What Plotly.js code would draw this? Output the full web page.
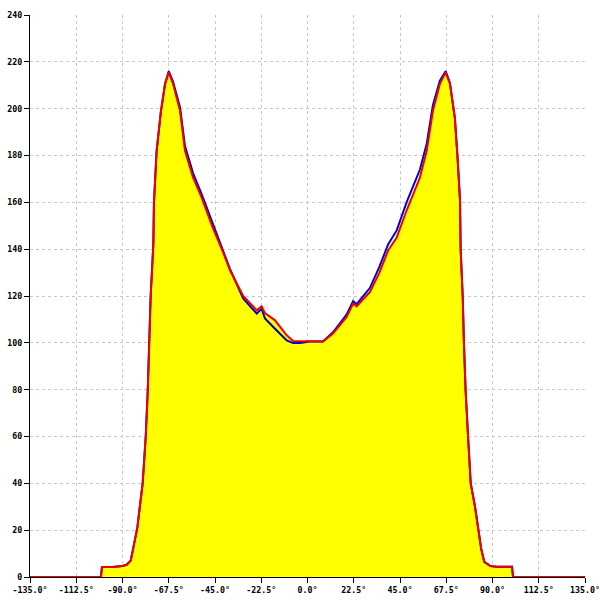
<!DOCTYPE html>
<html>
<head>
<meta charset="utf-8">
<script src="https://cdn.plot.ly/plotly-3.0.1.min.js"></script>
<style>html,body{margin:0;padding:0;background:#fff;}#chart{width:600px;height:600px;}</style>
</head>
<body>
<div id="chart"></div>
<script>
// angle (degrees)
const angles = [-135, -100.5, -100, -95, -90, -88, -86, -84.5, -82.8, -80.2, -78.7, -77.7, -77.1, -76.3, -75, -74.7, -73.4, -71.3, -69.3, -67.5, -65.4, -62, -59.6, -55.7, -51.5, -46, -41.2, -37.7, -31.3, -24.7, -22.3, -20.7, -15.8, -10.1, -7, -3.6, 1.2, 7.5, 12.4, 19, 22.2, 23.9, 30.4, 35, 39.2, 43.4, 48.2, 54.7, 58, 61, 64.4, 67.2, 69.3, 71.7, 73, 74.2, 74.5, 75.5, 76.1, 76.9, 78.1, 79.4, 81.5, 83, 84.5, 86, 89, 92, 99.5, 100, 135];
// red series values
const redValues = [0, 0, 4.3, 4.3, 4.7, 5.2, 7, 13, 21, 40, 60, 80, 100, 120, 142, 160, 182, 199, 210.6, 215.5, 210.6, 199, 182, 170.6, 162, 149, 139, 131, 120, 113.9, 115.6, 112.7, 109.6, 103.2, 100.8, 100.7, 100.6, 100.6, 104, 111, 116.8, 115.6, 121.7, 130, 139.4, 145, 156.5, 170.6, 182, 199, 210.6, 215.5, 210.6, 196, 179, 160.8, 140, 120, 100, 80, 60, 40, 30, 20, 12, 6.5, 4.7, 4.4, 4.4, 0, 0];
// blue series values
const blueValues = [0, 0, 4.3, 4.3, 4.7, 5.2, 7, 13, 21, 40, 60, 80, 100, 120, 142, 160, 182, 199, 210.6, 216, 211.5, 200.5, 184, 172.5, 163.5, 150.5, 140, 131.5, 119, 112.5, 114.5, 110.4, 106, 101, 99.9, 99.9, 100.6, 100.6, 104.5, 112, 117.8, 116.5, 123.5, 132.5, 142, 148, 160, 174, 185, 201.5, 212, 216, 211, 196, 179, 160.8, 140, 120, 100, 80, 60, 40, 30, 20, 12, 6.5, 4.7, 4.4, 4.4, 0, 0];
const xTicks = [-135, -112.5, -90, -67.5, -45, -22.5, 0, 22.5, 45, 67.5, 90, 112.5, 135];
const xTickText = ["-135.0°", "-112.5°", "-90.0°", "-67.5°", "-45.0°", "-22.5°", "0.0°", "22.5°", "45.0°", "67.5°", "90.0°", "112.5°", "135.0°"];
const yTicks = [0, 20, 40, 60, 80, 100, 120, 140, 160, 180, 200, 220, 240];

const traces = [
  {x: angles, y: redValues, type: 'scatter', mode: 'none', fill: 'tozeroy', fillcolor: '#ffff00', hoverinfo: 'skip'},
  {x: angles, y: blueValues, type: 'scatter', mode: 'lines', line: {color: '#0000cc', width: 2}, cliponaxis: false},
  {x: angles, y: redValues, type: 'scatter', mode: 'lines', line: {color: '#ee0000', width: 2}, cliponaxis: false}
];
const tickFont = {family: 'DejaVu Sans Mono, monospace', size: 8.3, color: '#000', weight: 'bold'};
const layout = {
  width: 600, height: 600,
  margin: {l: 30, r: 15, t: 15, b: 23},
  paper_bgcolor: '#fff', plot_bgcolor: '#fff',
  showlegend: false,
  xaxis: {
    range: [-135, 135.0001], tickvals: xTicks, ticktext: xTickText, ticklabeloverflow: 'allow',
    showgrid: true, gridcolor: '#c8c8c8', griddash: '3px,3px', gridwidth: 1,
    zeroline: false, showline: true, linecolor: '#000', linewidth: 1,
    ticks: 'outside', ticklen: 5, tickcolor: '#000', tickfont: tickFont
  },
  yaxis: {
    range: [0, 240.0001], tickvals: yTicks, ticklabeloverflow: 'allow',
    showgrid: true, gridcolor: '#c8c8c8', griddash: '3px,3px', gridwidth: 1,
    zeroline: false, showline: true, linecolor: '#000', linewidth: 1,
    ticks: 'outside', ticklen: 5, tickcolor: '#000', tickfont: tickFont
  }
};
Plotly.newPlot('chart', traces, layout, {displayModeBar: false, staticPlot: true});
</script>
</body>
</html>
